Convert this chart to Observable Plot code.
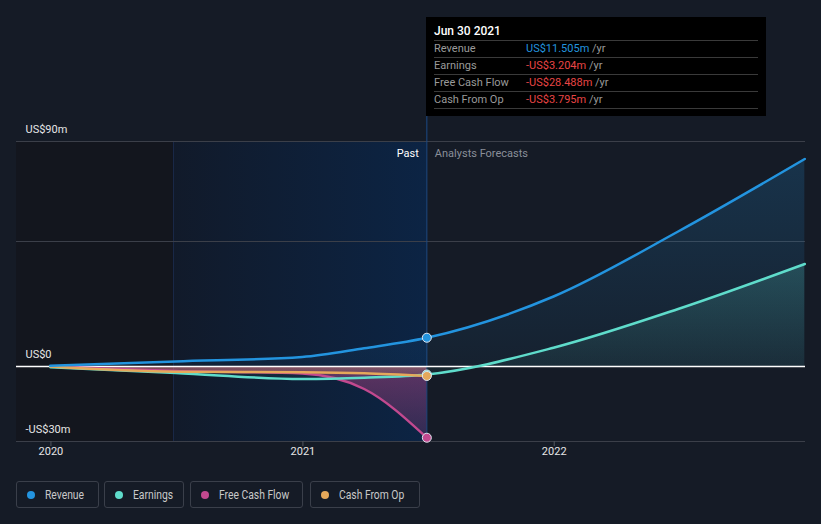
<!DOCTYPE html>
<html><head><meta charset="utf-8">
<script src="https://cdn.jsdelivr.net/npm/d3@7"></script>
<script src="https://cdn.jsdelivr.net/npm/@observablehq/plot@0.6"></script>
<style>
html,body{margin:0;padding:0;background:#151b26;width:821px;height:524px;overflow:hidden;font-family:Roboto,"Noto Sans",sans-serif;}
#wrap{position:relative;width:821px;height:524px;}
#chart{position:absolute;left:0;top:0;}
#tip{position:absolute;left:426px;top:17px;width:340px;height:99px;background:#000;}
#tip .title{position:absolute;left:8px;top:7px;font-size:12px;font-weight:500;color:#fff;line-height:14px;}
#tip .rows{position:absolute;left:8px;top:23px;width:324px;}
#tip .row{height:16px;border-top:1px solid #3a3a3a;font-size:11px;line-height:16px;color:#9a9a9a;white-space:nowrap;}
#tip .row:last-child{border-bottom:1px solid #3a3a3a;}
#tip .lab{display:inline-block;width:92px;}
#legend{position:absolute;left:0;top:481px;width:821px;height:27px;}
.item{position:absolute;top:0;box-sizing:border-box;display:flex;align-items:center;height:27px;border:1px solid #3a3f4a;border-radius:3px;padding-left:10px;font-size:12px;color:#c9c9c9;white-space:nowrap;}
.dot{flex:none;width:8px;height:8px;border-radius:50%;margin-right:10px;}
.lt{display:inline-block;transform:scaleX(0.86);transform-origin:left center;}
</style></head>
<body><div id="wrap"><div id="chart"></div><div id="tip"></div><div id="legend"></div></div>
<script>
// ---- data ----
const seriesNames = ["Revenue", "Earnings", "Free Cash Flow", "Cash From Op"];
const seriesColors = ["#2394df", "#5fdccb", "#c2498f", "#e5a85a"];
const pastDates = ["2019-12-31", "2020-06-30", "2020-12-31", "2021-03-31", "2021-06-30"];
const revenuePast = [0.3, 2.0, 3.8, 7.3, 11.505];
const earningsPast = [-0.3, -2.6, -5.0, -4.5, -3.204];
const fcfPast = [0, -1.8, -2.8, -9.0, -28.488];
const cfoPast = [0, -2.1, -2.3, -2.7, -3.795];
const forecastDates = ["2021-06-30", "2021-12-31", "2022-06-30", "2022-12-31"];
const revenueForecast = [11.505, 28, 54, 83];
const earningsForecast = [-3.204, 7.5, 23, 41];
const pastStartDate = "2020-06-27";
const pastEndDate = "2021-06-30";
const xDomainDates = ["2019-11-12", "2023-01-01"];
const yearTicks = ["2020-01-01", "2021-01-01", "2022-01-01"];
const yTickValues = [90, 0, -30];
const yTickLabels = ["US$90m", "US$0", "-US$30m"];
const gridValues = [90, 50, -30];
const tipTitle = "Jun 30 2021";

// ---- build ----
const P = s => new Date(s + "T00:00:00Z");
const rev = pastDates.map((d,i)=>({date:P(d), v:revenuePast[i]})).concat(forecastDates.slice(1).map((d,i)=>({date:P(d), v:revenueForecast[i+1]})));
const earn = pastDates.map((d,i)=>({date:P(d), v:earningsPast[i]})).concat(forecastDates.slice(1).map((d,i)=>({date:P(d), v:earningsForecast[i+1]})));
const fcf = pastDates.map((d,i)=>({date:P(d), v:fcfPast[i]}));
const cfo = pastDates.map((d,i)=>({date:P(d), v:cfoPast[i]}));
const last = pastDates.length-1;
const endPts = [
  {date:P(pastDates[last]), v:revenuePast[last], c:seriesColors[0]},
  {date:P(pastDates[last]), v:earningsPast[last], c:seriesColors[1]},
  {date:P(pastDates[last]), v:fcfPast[last], c:seriesColors[2]},
  {date:P(pastDates[last]), v:cfoPast[last], c:seriesColors[3]}
];
const years = yearTicks.map(P);
const x0 = P(xDomainDates[0]);
const curve = "monotone-x";

const plot = Plot.plot({
  width: 821, height: 470,
  marginLeft: 16, marginRight: 16, marginTop: 141, marginBottom: 29,
  x: {type: "utc", domain: xDomainDates.map(P), axis: null},
  y: {domain: [-30, 90], axis: null},
  style: {background: "transparent", fontFamily: "Roboto, 'Noto Sans', sans-serif"},
  marks: [
    Plot.rect([0], {x1: () => x0, x2: () => P(pastStartDate), y1: -30, y2: 90, fill: "#13161e"}),
    Plot.rect([0], {x1: () => P(pastStartDate), x2: () => P(pastEndDate), y1: -30, y2: 90, fill: "url(#pastGrad)"}),
    Plot.ruleX([P(pastStartDate)], {stroke: "#1a2a48", strokeWidth: 1}),
    Plot.ruleY(gridValues, {stroke: "#3b3f49", strokeWidth: 1}),
    Plot.ruleX([P(pastEndDate)], {stroke: "#1c4a85", strokeWidth: 1, insetTop: -124}),
    Plot.areaY(rev, {x: "date", y1: 0, y2: "v", fill: "url(#revGrad)", curve}),
    Plot.areaY(earn, {x: "date", y1: 0, y2: "v", fill: "url(#earnGrad)", curve}),
    Plot.areaY(fcf, {x: "date", y1: 0, y2: "v", fill: "url(#fcfGrad)", curve}),
    Plot.areaY(cfo, {x: "date", y1: 0, y2: "v", fill: "url(#cfoGrad)", curve}),
    Plot.ruleY([0], {stroke: "#ffffff", strokeWidth: 1.5}),
    Plot.line(fcf, {x: "date", y: "v", stroke: seriesColors[2], strokeWidth: 2.5, curve}),
    Plot.line(earn, {x: "date", y: "v", stroke: seriesColors[1], strokeWidth: 2.5, curve}),
    Plot.line(cfo, {x: "date", y: "v", stroke: seriesColors[3], strokeWidth: 2.5, curve}),
    Plot.line(rev, {x: "date", y: "v", stroke: seriesColors[0], strokeWidth: 2.5, curve}),
    Plot.dot(endPts, {x: "date", y: "v", r: 4.5, fill: "c", stroke: "#dfe6f0", strokeWidth: 1}),
    Plot.ruleX(years, {y1: -30, y2: -32, stroke: "#50555f"}),
    Plot.text(years, {x: d => d, frameAnchor: "bottom", dy: 13, text: d => d3.utcFormat("%Y")(d), fill: "#e6e6e6", fontSize: 11}),
    Plot.text(yTickValues, {y: d => d, frameAnchor: "left", dx: 9, dy: -12, textAnchor: "start", text: (d,i) => yTickLabels[i], fill: "#e6e6e6", fontSize: 11}),
    Plot.text(["Past"], {x: () => P(pastEndDate), y: 90, dx: -8, dy: 12, textAnchor: "end", text: d => d, fill: "#ffffff", fontSize: 11}),
    Plot.text(["Analysts Forecasts"], {x: () => P(pastEndDate), y: 90, dx: 8, dy: 12, textAnchor: "start", text: d => d, fill: "#8a8f99", fontSize: 11})
  ]
});
const ns = "http://www.w3.org/2000/svg";
const defs = document.createElementNS(ns, "defs");
function grad(id, horiz, stops){
  const g = document.createElementNS(ns, "linearGradient");
  g.setAttribute("id", id);
  g.setAttribute("x1", "0"); g.setAttribute("y1", "0");
  g.setAttribute("x2", horiz ? "1" : "0"); g.setAttribute("y2", horiz ? "0" : "1");
  stops.forEach(([o, c, op]) => {
    const s = document.createElementNS(ns, "stop");
    s.setAttribute("offset", o); s.setAttribute("stop-color", c); s.setAttribute("stop-opacity", op);
    g.appendChild(s);
  });
  defs.appendChild(g);
}
grad("pastGrad", true, [[0, "#111a2a", 1], [1, "#0c2444", 1]]);
grad("revGrad", false, [[0, seriesColors[0], 0.2], [1, seriesColors[0], 0.05]]);
grad("earnGrad", false, [[0, seriesColors[1], 0.2], [1, seriesColors[1], 0.05]]);
grad("fcfGrad", false, [[0, seriesColors[2], 0.45], [1, seriesColors[2], 0.2]]);
grad("cfoGrad", false, [[0, seriesColors[3], 0.25], [1, seriesColors[3], 0.1]]);
plot.insertBefore(defs, plot.firstChild);
document.getElementById("chart").appendChild(plot);

// tooltip
const fmt = v => (v < 0 ? "-" : "") + "US$" + Math.abs(v).toFixed(3) + "m";
const tipVals = [revenuePast[last], earningsPast[last], fcfPast[last], cfoPast[last]];
const tip = document.getElementById("tip");
let html = `<div class="title">${tipTitle}</div><div class="rows">`;
seriesNames.forEach((n, i) => {
  const col = tipVals[i] < 0 ? "#e84545" : seriesColors[0];
  html += `<div class="row"><span class="lab">${n}</span><span style="color:${col}">${fmt(tipVals[i])}</span> /yr</div>`;
});
html += "</div>";
tip.innerHTML = html;

// legend
const legLeft = [16, 104, 190, 310];
const legWidth = [83, 80, 113, 110];
const leg = document.getElementById("legend");
seriesNames.forEach((n, i) => {
  const it = document.createElement("div");
  it.className = "item";
  it.style.left = legLeft[i] + "px";
  it.style.width = legWidth[i] + "px";
  it.innerHTML = `<span class="dot" style="background:${seriesColors[i]}"></span><span class="lt">${n}</span>`;
  leg.appendChild(it);
});
</script></body></html>
